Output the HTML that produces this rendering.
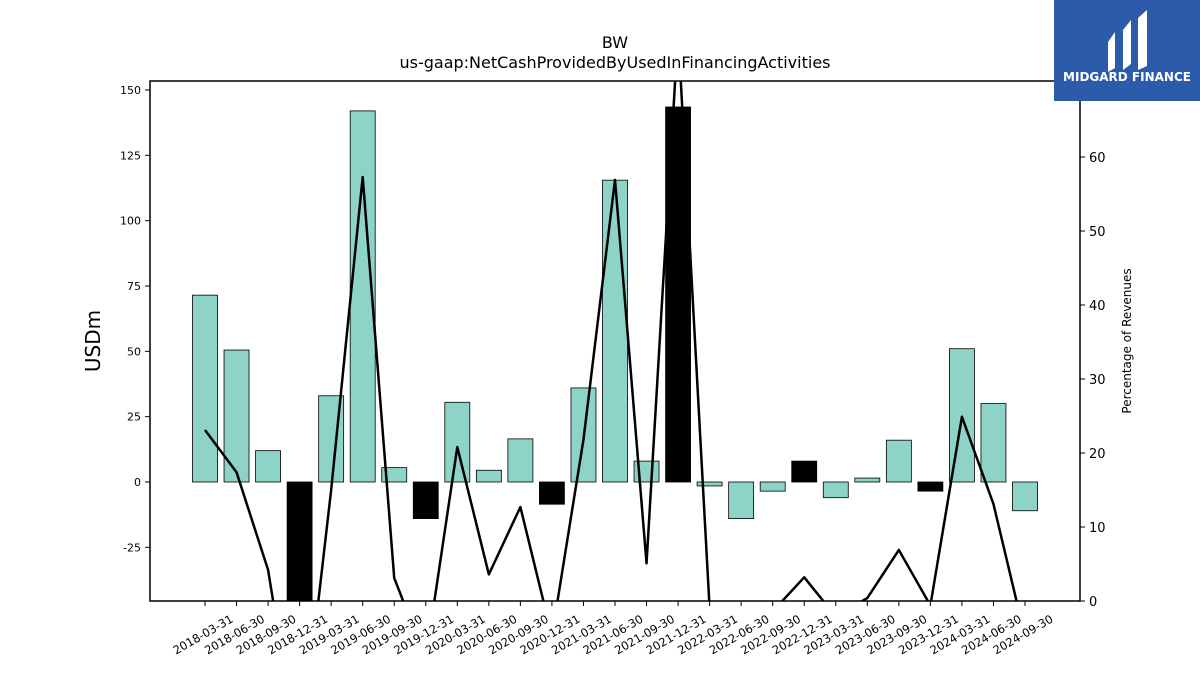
<!DOCTYPE html>
<html><head><meta charset="utf-8"><style>
html,body{margin:0;padding:0;background:#fff;width:1200px;height:675px;overflow:hidden;font-family:"DejaVu Sans","Liberation Sans",sans-serif}
svg{display:block}
</style></head><body>
<svg id="c" width="1200" height="675" xmlns="http://www.w3.org/2000/svg" font-family="DejaVu Sans, Liberation Sans, sans-serif">
<text x="615" y="48" text-anchor="middle" font-size="16">BW</text>
<text x="615" y="68" text-anchor="middle" font-size="16">us-gaap:NetCashProvidedByUsedInFinancingActivities</text>
<text transform="translate(100,341) rotate(-90)" text-anchor="middle" font-size="20">USDm</text>
<text transform="translate(1131,341) rotate(-90)" text-anchor="middle" font-size="12">Percentage of Revenues</text>
<g id="bars"></g><g id="line"></g><g id="axes"></g>
<rect x="150" y="81" width="930" height="520" fill="none" stroke="#000" stroke-width="1.5"/>
<g>
<rect x="1054" y="0" width="146" height="101" fill="#2d5bab"/>
<path d="M1108 42 L1115 32 L1115 68 L1108 72 Z" fill="#fff"/>
<path d="M1123 30 L1131 20 L1131 64 L1123 70 Z" fill="#fff"/>
<path d="M1138 18 L1147 10 L1147 66 L1138 70 Z" fill="#fff"/>
<text x="1127" y="81" text-anchor="middle" font-size="12" font-weight="bold" fill="#fff">MIDGARD FINANCE</text>
</g>
</svg>
<script>
const categories=["2018-03-31","2018-06-30","2018-09-30","2018-12-31","2019-03-31","2019-06-30","2019-09-30","2019-12-31","2020-03-31","2020-06-30","2020-09-30","2020-12-31","2021-03-31","2021-06-30","2021-09-30","2021-12-31","2022-03-31","2022-06-30","2022-09-30","2022-12-31","2023-03-31","2023-06-30","2023-09-30","2023-12-31","2024-03-31","2024-06-30","2024-09-30"];
const barValues=[71.5,50.5,12,-60,33,142,5.5,-14,30.5,4.5,16.5,-8.5,36,115.5,8,143.5,-1.5,-14,-3.5,8,-6,1.5,16,-3.5,51,30,-11];
const pctValues=[23.1,17.4,4.2,-22,15,57.3,3.1,-7.8,20.8,3.6,12.7,-4.7,21.8,56.9,5.1,77,-1,-5,-1.4,3.2,-2.1,0.4,6.9,-0.6,24.9,13.1,-4.8];
const leftTicks=[-25,0,25,50,75,100,125,150];
const rightTicks=[0,10,20,30,40,50,60];
const NS="http://www.w3.org/2000/svg";
const X0=150,X1=1080,Y0=81,Y1=601;
const xPos=i=>205+i*(1025-205)/(categories.length-1);
const yL=v=>482-v*(392/150);
const yR=v=>601-v*(444/60);
function mk(t,a,p){const e=document.createElementNS(NS,t);for(const k in a)e.setAttribute(k,a[k]);p.appendChild(e);return e;}
const svg=document.getElementById('c');
const defs=mk('defs',{},svg);const cp=mk('clipPath',{id:'pc'},defs);mk('rect',{x:X0,y:Y0,width:X1-X0,height:Y1-Y0},cp);
const bars=document.getElementById('bars');bars.setAttribute('clip-path','url(#pc)');
barValues.forEach((v,i)=>{
 const q4=categories[i].endsWith('12-31');
 const y=Math.min(yL(v),yL(0)),h=Math.abs(yL(v)-yL(0));
 const r=mk('rect',{x:xPos(i)-12.5,y:y,width:25,height:h,fill:q4?'#000':'#8dd3c7',stroke:'#000','stroke-width':0.8},bars);
 
 
});
const lg=document.getElementById('line');lg.setAttribute('clip-path','url(#pc)');
const pl=mk('polyline',{points:pctValues.map((v,i)=>xPos(i)+','+yR(v)).join(' '),fill:'none',stroke:'#000','stroke-width':2.5,'stroke-linejoin':'round'},lg);


const ax=document.getElementById('axes');
leftTicks.forEach(t=>{const y=yL(t);
 mk('line',{x1:X0-5,x2:X0,y1:y,y2:y,stroke:'#000'},ax);
 const tx=mk('text',{x:X0-9,y:y+4,'text-anchor':'end','font-size':11},ax);tx.textContent=t;
 
 });
rightTicks.forEach(t=>{const y=yR(t);
 mk('line',{x1:X1,x2:X1+5,y1:y,y2:y,stroke:'#000'},ax);
 const tx=mk('text',{x:X1+9,y:y+5,'font-size':13},ax);tx.textContent=t;
 
 });
categories.forEach((c,i)=>{const x=xPos(i);
 mk('line',{x1:x,x2:x,y1:Y1,y2:Y1+5,stroke:'#000'},ax);
 const tx=mk('text',{transform:`translate(${x},${Y1+37}) rotate(-30)`,'text-anchor':'middle','font-size':11.5},ax);tx.textContent=c;
 
 });
</script>
</body></html>
